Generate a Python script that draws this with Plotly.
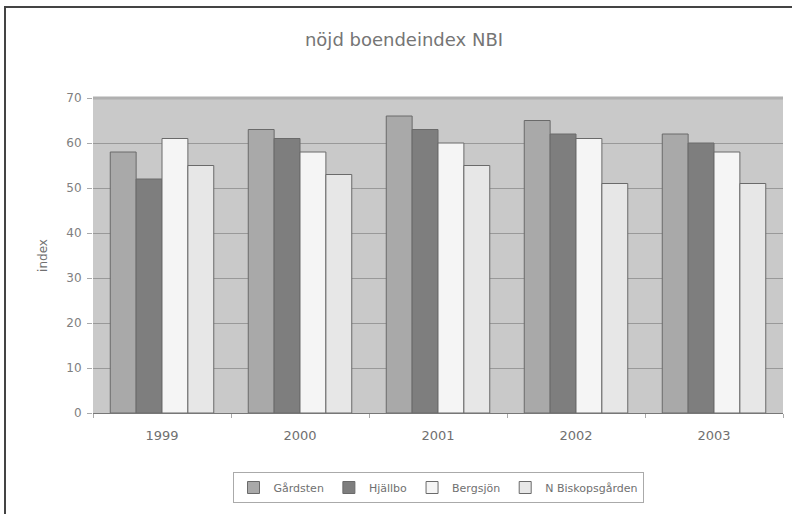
import plotly.graph_objects as go

years = ["1999", "2000", "2001", "2002", "2003"]
series_names = ["Gårdsten", "Hjällbo", "Bergsjön", "N Biskopsgården"]
gardsten = [58, 63, 66, 65, 62]
hjallbo = [52, 61, 63, 62, 60]
bergsjon = [61, 58, 60, 61, 58]
n_biskopsgarden = [55, 53, 55, 51, 51]
y_ticks = [0, 10, 20, 30, 40, 50, 60, 70]

colors = ["#a9a9a9", "#7e7e7e", "#f5f5f5", "#e7e7e7"]
values = [gardsten, hjallbo, bergsjon, n_biskopsgarden]

fig = go.Figure()
for name, vals, col in zip(series_names, values, colors):
    fig.add_trace(go.Bar(
        x=years, y=vals, name=name,
        marker=dict(color=col, line=dict(color="#6a6a6a", width=1)),
    ))

font_family = "DejaVu Sans, sans-serif"
fig.update_layout(
    width=792, height=514,
    margin=dict(l=93, r=9, t=98, b=101),
    paper_bgcolor="white",
    plot_bgcolor="#c9c9c9",
    barmode="group",
    bargap=0.25,
    bargroupgap=0,
    font=dict(family=font_family, color="#707070", size=11),
    title=dict(text="nöjd boendeindex NBI", x=404/792, xanchor="center",
               y=1 - 40/514, yanchor="middle", yref="container",
               font=dict(size=18, color="#757575", family=font_family)),
    xaxis=dict(type="category", showgrid=False, ticks="outside", tickson="boundaries",
               ticklen=4, tickcolor="#aaaaaa", showline=True, linecolor="#777777",
               linewidth=1, ticklabelstandoff=10,
               tickfont=dict(size=13, color="#707070")),
    yaxis=dict(range=[0, 70], tickvals=y_ticks, showgrid=True, gridcolor="#999999",
               gridwidth=1, ticks="outside", ticklen=5, tickcolor="#aaaaaa",
               zeroline=False, ticklabelstandoff=3, tickfont=dict(size=12, color="#808080"),
               title=dict(text="index", font=dict(size=12, color="#707070"), standoff=16)),
    legend=dict(orientation="h", x=0.5, xanchor="center", y=(413-472)/315, yanchor="top",
                bordercolor="#aaaaaa", borderwidth=1, font=dict(size=11, color="#707070"),
                itemwidth=30, traceorder="normal"),
    showlegend=True,
    shapes=[
        dict(type="rect", xref="paper", yref="paper",
             x0=(5-93)/690, x1=1.2, y0=(413-7)/315, y1=-0.6,
             line=dict(color="#444444", width=2), fillcolor="rgba(0,0,0,0)", layer="above"),
        dict(type="line", xref="paper", yref="paper", x0=0, x1=1, y0=1, y1=1,
             line=dict(color="#b0b0b0", width=3)),
    ],
)

fig.write_html("out.html", config={"displayModeBar": False},
               post_script="document.body.style.margin='0';document.body.style.padding='0';")
